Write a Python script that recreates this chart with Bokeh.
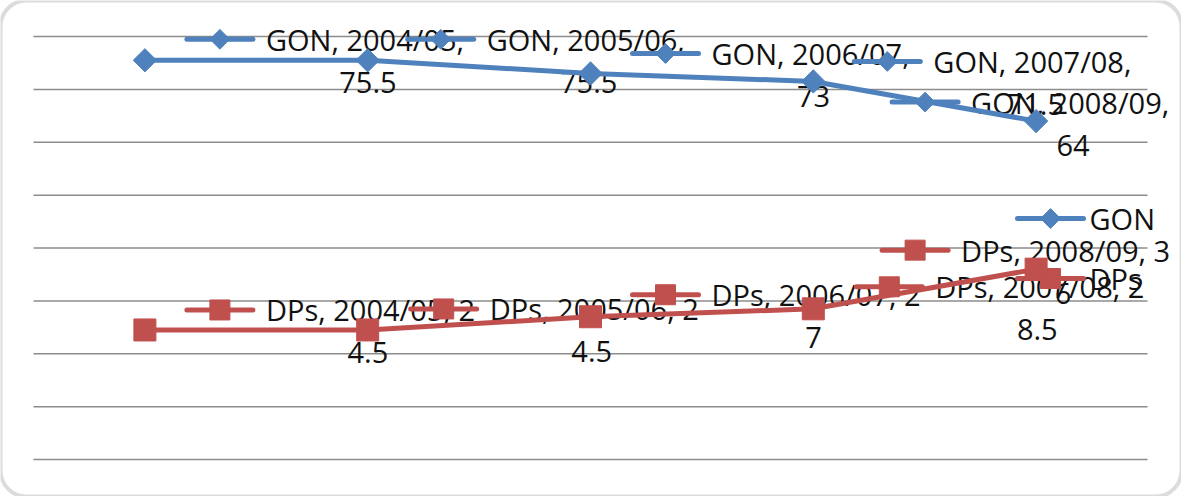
import math
from bokeh.plotting import figure
from bokeh.models import Range1d, BoxAnnotation
from bokeh.core.properties import value
from bokeh.embed import file_html
from bokeh.resources import INLINE

# ---------------- data ----------------
categories = ["2004/05", "2005/06", "2006/07", "2007/08", "2008/09"]
gon = [75.5, 75.5, 73, 71.5, 64]
dps = [24.5, 24.5, 27, 28.5, 36]
y_ticks = [0, 10, 20, 30, 40, 50, 60, 70, 80]

# ---------------- style / layout ----------------
BLUE = "#4F81BD"
RED = "#C0504D"
GRID = "#8c8c8c"
FONT = "Open Sans"
FS = "29px"
TXT = "#111111"

W, H = 1181, 496
# plot area inside the canvas (px)
PL, PR, PT, PB = 33, 1147, 36, 459
N = len(categories)
YMAX = 80.0
XPX = N / (PR - PL)        # data units per px (x)
YPX = YMAX / (PB - PT)     # data units per px (y)

x_start = -PL * XPX
x_end = N + (W - PR) * XPX
y_end = YMAX + PT * YPX
y_start = -(H - PB) * YPX

# label key offsets (px, screen) from each data point
gon_key_dx = [75, 73, 75, 74, -111]
gon_key_dy = [-21, -21, -20, -20, -19]
dps_key_dx = [75, 76, 75, 76, -121]
dps_key_dy = [-20, -21, -22, -22, -19]
TXT_DX = 46
L2_DX, L2_DY = 148, 43
KEY_HALF = 33


def fmt(v):
    return f"{v:g}"


xs = [i + 0.5 for i in range(N)]

p = figure(width=W, height=H, output_backend="svg", toolbar_location=None,
           x_range=Range1d(x_start, x_end), y_range=Range1d(y_start, y_end),
           min_border=0)
p.xaxis.visible = False
p.yaxis.visible = False
p.xgrid.visible = False
p.ygrid.visible = False
p.outline_line_color = None
p.border_fill_color = "white"
p.background_fill_color = "white"


def sx(x, dpx):
    return x + dpx * XPX


def sy(y, dpx):
    return y - dpx * YPX


# horizontal gridlines across the category extent
p.segment(x0=[0] * len(y_ticks), x1=[N] * len(y_ticks), y0=y_ticks, y1=y_ticks,
          line_color=GRID, line_width=1.5)

# chart border (rounded)
p.add_layout(BoxAnnotation(fill_alpha=0, line_color="#8a8a8a", line_width=4,
                           border_radius=26, level="overlay"))


def add_texts(vals, kdx, kdy, line1, line2):
    kx = [sx(x, d) for x, d in zip(xs, kdx)]
    ky = [sy(v, d) for v, d in zip(vals, kdy)]
    p.text(x=[sx(k, TXT_DX) for k in kx], y=ky, text=line1,
           text_font=value(FONT), text_font_size=FS, text_color=TXT,
           text_align="left", text_baseline="middle")
    p.text(x=[sx(k, L2_DX) for k in kx], y=[sy(k, L2_DY) for k in ky], text=line2,
           text_font=value(FONT), text_font_size=FS, text_color=TXT,
           text_align="center", text_baseline="middle")
    return kx, ky


gon_l1 = [f"GON, {c}," for c in categories]
gon_l2 = [fmt(v) for v in gon]
dps_l1 = [f"DPs, {c}, {fmt(v)[0]}" for c, v in zip(categories, dps)]
dps_l2 = [fmt(v)[1:] for v in dps]

gk = add_texts(gon, gon_key_dx, gon_key_dy, gon_l1, gon_l2)
dk = add_texts(dps, dps_key_dx, dps_key_dy, dps_l1, dps_l2)

# label keys
for (kx, ky), color, size, ang in [(gk, BLUE, 14, math.pi / 4), (dk, RED, 20, 0)]:
    p.segment(x0=[sx(k, -KEY_HALF) for k in kx], y0=ky,
              x1=[sx(k, KEY_HALF) for k in kx], y1=ky,
              line_color=color, line_width=5, line_cap="round")
    p.scatter(x=kx, y=ky, marker="square", size=size, angle=ang,
              fill_color=color, line_color=color)

# legend (right side)
leg_x = (1050 - PL) * XPX
leg_y = [YMAX - (218 - PT) * YPX, YMAX - (278 - PT) * YPX]
for name, color, ly, size, ang in [("GON", BLUE, leg_y[0], 14, math.pi / 4),
                                   ("DPs", RED, leg_y[1], 20, 0)]:
    p.segment(x0=[sx(leg_x, -KEY_HALF)], y0=[ly], x1=[sx(leg_x, KEY_HALF)], y1=[ly],
              line_color=color, line_width=5, line_cap="round")
    p.scatter(x=[leg_x], y=[ly], marker="square", size=size, angle=ang,
              fill_color=color, line_color=color)
    p.text(x=[sx(leg_x, 39)], y=[ly], text=[name], text_font=value(FONT),
           text_font_size=FS, text_color=TXT, text_align="left",
           text_baseline="middle")

# series
p.line(xs, gon, line_color=BLUE, line_width=5, line_join="round", line_cap="round")
p.scatter(xs, gon, marker="square", size=16.5, angle=math.pi / 4,
          fill_color=BLUE, line_color=BLUE)
p.line(xs, dps, line_color=RED, line_width=5, line_join="round", line_cap="round")
p.scatter(xs, dps, marker="square", size=22, fill_color=RED, line_color=RED)

open("out.html", "w").write(file_html(p, INLINE))
